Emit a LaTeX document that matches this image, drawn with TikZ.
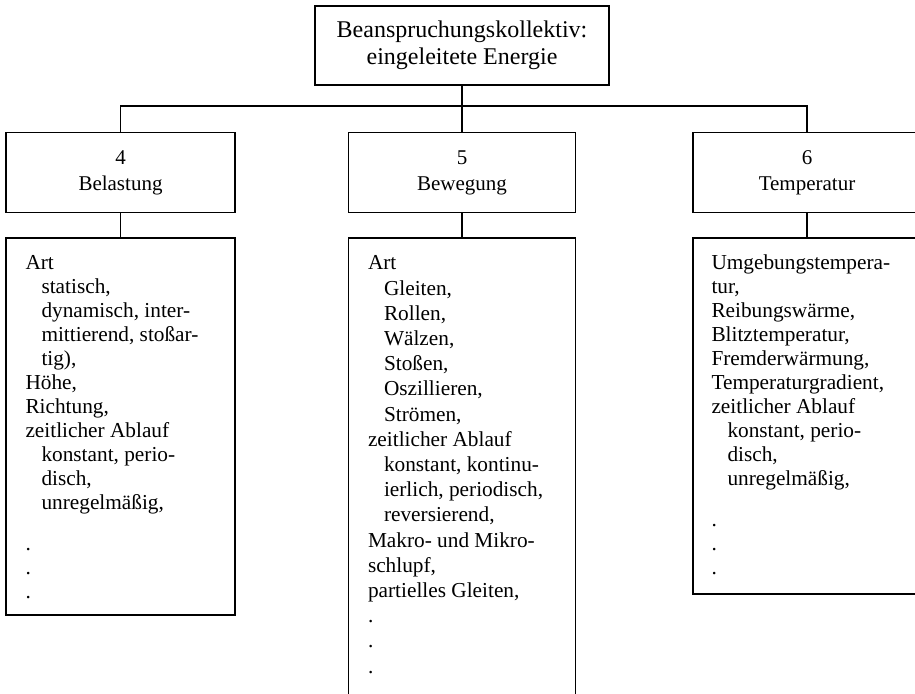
\documentclass[tikz,border=0pt]{standalone}
\usepackage{fontspec}
\setmainfont{Liberation Serif}
\usetikzlibrary{positioning,calc}

\newcommand{\ind}{\hspace*{8pt}}

\tikzset{
  headbox/.style={draw, line width=0.9pt, align=center, inner sep=0pt, minimum height=40pt,
    font=\fontsize{10.5}{13}\selectfont},
  infobox/.style={draw, line width=0.9pt, anchor=north, inner sep=0pt},
  listtext/.style={anchor=base west, inner sep=0pt, font=\fontsize{10.65}{12}\selectfont},
  link/.style={line width=0.8pt}
}

\begin{document}
\begin{tikzpicture}[x=0.5pt, y=-0.5pt]
\useasboundingbox (0,0) rectangle (915,694);

% Title box
\node[headbox, minimum width=147pt, minimum height=39.5pt, font=\fontsize{12}{13.5}\selectfont]
  (kollektiv) at (462,45.5) {Beanspruchungskollektiv:\\eingeleitete Energie};

% Category boxes
\node[headbox, minimum width=114.5pt] (belastung) at (120.5,172.5) {4\\Belastung};
\node[headbox, minimum width=113.5pt] (bewegung) at (462,172.5) {5\\Bewegung};
\node[headbox, minimum width=114pt] (temperatur) at (807,172.5) {6\\Temperatur};

% Info boxes
\node[infobox, minimum width=114.5pt, minimum height=188.5pt] (belinfo) at (120.5,237) {};
\node[infobox, minimum width=113.5pt, minimum height=250pt] (bewinfo) at (462,237) {};
\node[infobox, minimum width=114pt, minimum height=178pt] (teminfo) at (807,237) {};

% Lists
\node[listtext] (bellist) at ($(belinfo.north west)+(20,33)$) {\parbox[t]{100pt}{\raggedright
  Art\\
  \ind statisch,\\
  \ind dynamisch, inter-\\
  \ind mittierend, stoßar-\\
  \ind tig),\\
  Höhe,\\
  Richtung,\\
  zeitlicher Ablauf\\
  \ind konstant, perio-\\
  \ind disch,\\
  \ind unregelmäßig,\\[8.5pt]
  .\\
  .\\
  .}};

\node[listtext, font=\fontsize{10.65}{12.6}\selectfont] (bewlist) at ($(bewinfo.north west)+(20,33)$) {\parbox[t]{100pt}{\raggedright
  Art\\
  \ind Gleiten,\\
  \ind Rollen,\\
  \ind Wälzen,\\
  \ind Stoßen,\\
  \ind Oszillieren,\\
  \ind Strömen,\\
  zeitlicher Ablauf\\
  \ind konstant, kontinu-\\
  \ind ierlich, periodisch,\\
  \ind reversierend,\\
  Makro- und Mikro-\\
  schlupf,\\
  partielles Gleiten,\\
  .\\
  .\\
  .}};

\node[listtext] (temlist) at ($(teminfo.north west)+(19,33)$) {\parbox[t]{100pt}{\raggedright
  Umgebungstempera-\\
  tur,\\
  Reibungswärme,\\
  Blitztemperatur,\\
  Fremderwärmung,\\
  Temperaturgradient,\\
  zeitlicher Ablauf\\
  \ind konstant, perio-\\
  \ind disch,\\
  \ind unregelmäßig,\\[8.5pt]
  .\\
  .\\
  .}};

% Connectors
\draw[link] (kollektiv) -- (bewegung);
\draw[link] (belastung.north) -- ++(0,-25.5) -| (temperatur.north);
\draw[link] (belastung) -- (belinfo);
\draw[link] (bewegung) -- (bewinfo);
\draw[link] (temperatur) -- (teminfo);

\end{tikzpicture}
\end{document}
